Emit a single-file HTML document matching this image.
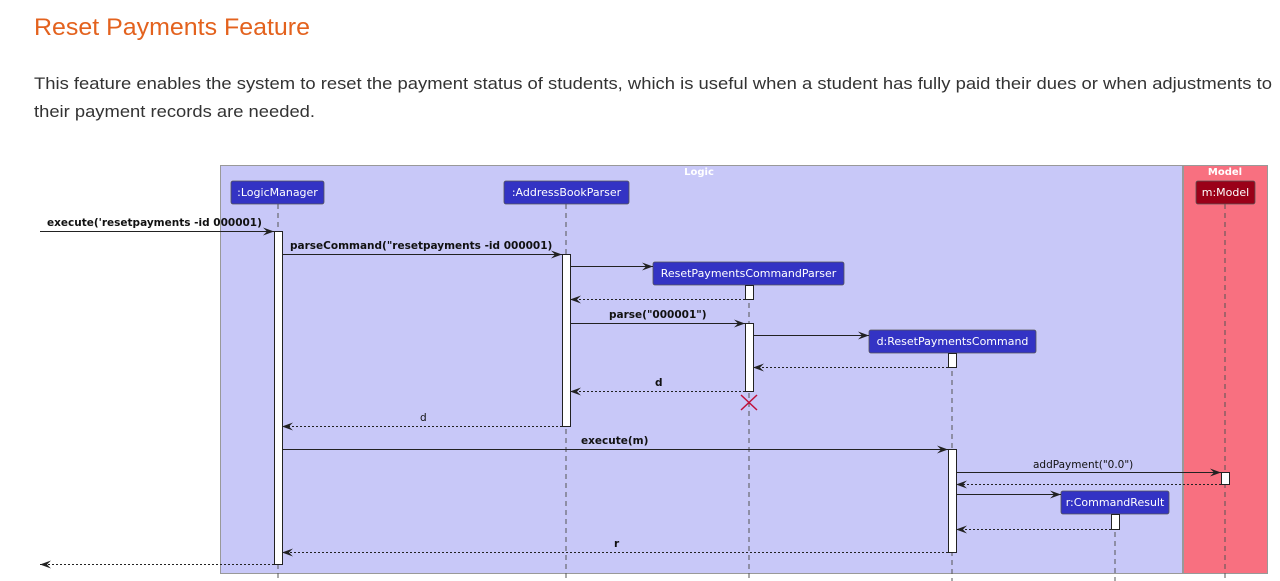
<!DOCTYPE html>
<html><head><meta charset="utf-8"><style>
html,body{margin:0;padding:0;background:#fff;width:1280px;height:581px;overflow:hidden}
svg{display:block}
.n{font-family:"DejaVu Sans","Liberation Sans",sans-serif;font-size:11px;fill:#fff}
.m{font-family:"DejaVu Sans","Liberation Sans",sans-serif;font-size:10.5px;font-weight:bold;fill:#111}
</style></head><body>
<svg width="1280" height="581" viewBox="0 0 1280 581" xmlns="http://www.w3.org/2000/svg">
<defs>
<marker id="a" markerWidth="12" markerHeight="10" refX="11" refY="5" orient="auto" markerUnits="userSpaceOnUse"><path d="M0,1 L11,5 L0,9 L4,5 Z" fill="#222"/></marker>
</defs>
<text x="34" y="35" font-family="Liberation Sans,sans-serif" font-size="24" fill="#E3621E" textLength="276" lengthAdjust="spacingAndGlyphs">Reset Payments Feature</text>
<text x="34" y="89" font-family="Liberation Sans,sans-serif" font-size="17" fill="#333" textLength="1238" lengthAdjust="spacingAndGlyphs">This feature enables the system to reset the payment status of students, which is useful when a student has fully paid their dues or when adjustments to</text>
<text x="34" y="117" font-family="Liberation Sans,sans-serif" font-size="17" fill="#333" textLength="281" lengthAdjust="spacingAndGlyphs">their payment records are needed.</text>

<rect x="220.5" y="165.5" width="962" height="408" fill="#C8C8F8" stroke="#999"/>
<rect x="1183.5" y="165.5" width="84" height="408" fill="#F87080" stroke="#999"/>
<text x="699" y="175" text-anchor="middle" font-family="DejaVu Sans,sans-serif" font-size="10" font-weight="bold" fill="#fff">Logic</text>
<text x="1225" y="175" text-anchor="middle" font-family="DejaVu Sans,sans-serif" font-size="10" font-weight="bold" fill="#fff">Model</text>

<g stroke="#555" stroke-dasharray="5,4" stroke-width="1">
<line x1="278" y1="204" x2="278" y2="581"/>
<line x1="566" y1="204" x2="566" y2="581"/>
<line x1="749" y1="285" x2="749" y2="581"/>
<line x1="952" y1="353" x2="952" y2="581"/>
<line x1="1115" y1="514" x2="1115" y2="581"/>
<line x1="1225" y1="204" x2="1225" y2="581"/>
</g>

<g stroke="#555" stroke-width="0.8">
<rect x="231" y="181" width="93" height="23" rx="2" fill="#3333C4"/>
<rect x="504" y="181" width="125" height="23" rx="2" fill="#3333C4"/>
<rect x="653" y="262" width="191" height="23" rx="2" fill="#3333C4"/>
<rect x="869" y="330" width="167" height="23" rx="2" fill="#3333C4"/>
<rect x="1061" y="491" width="108" height="23" rx="2" fill="#3333C4"/>
<rect x="1196" y="181" width="59" height="23" rx="2" fill="#9A0018"/>
</g>
<text class="n" x="277.5" y="196" text-anchor="middle">:LogicManager</text>
<text class="n" x="566.5" y="196" text-anchor="middle">:AddressBookParser</text>
<text class="n" x="748.5" y="277" text-anchor="middle">ResetPaymentsCommandParser</text>
<text class="n" x="952.5" y="345" text-anchor="middle">d:ResetPaymentsCommand</text>
<text class="n" x="1115" y="506" text-anchor="middle">r:CommandResult</text>
<text class="n" x="1225.5" y="196" text-anchor="middle">m:Model</text>

<g fill="#fff" stroke="#222" stroke-width="1">
<rect x="274.5" y="231.5" width="8" height="333"/>
<rect x="562.5" y="254.5" width="8" height="172"/>
<rect x="745.5" y="285.5" width="8" height="14"/>
<rect x="745.5" y="323.5" width="8" height="68"/>
<rect x="948.5" y="353.5" width="8" height="14"/>
<rect x="948.5" y="449.5" width="8" height="103"/>
<rect x="1221.5" y="472.5" width="8" height="12"/>
<rect x="1111.5" y="514.5" width="8" height="15"/>
</g>

<g stroke="#222" stroke-width="1" fill="none" marker-end="url(#a)">
<line x1="40" y1="231.5" x2="274" y2="231.5"/>
<line x1="282" y1="254.5" x2="562" y2="254.5"/>
<line x1="570" y1="266.5" x2="653" y2="266.5"/>
<line x1="570" y1="323.5" x2="745" y2="323.5"/>
<line x1="753" y1="335.5" x2="869" y2="335.5"/>
<line x1="282" y1="449.5" x2="948" y2="449.5"/>
<line x1="956" y1="472.5" x2="1221" y2="472.5"/>
<line x1="956" y1="494.5" x2="1061" y2="494.5"/>
</g>
<g stroke="#222" stroke-width="1" fill="none" stroke-dasharray="2,2" marker-end="url(#a)">
<line x1="745" y1="299.5" x2="570" y2="299.5"/>
<line x1="948" y1="367.5" x2="753" y2="367.5"/>
<line x1="745" y1="391.5" x2="570" y2="391.5"/>
<line x1="562" y1="426.5" x2="282" y2="426.5"/>
<line x1="1221" y1="484.5" x2="956" y2="484.5"/>
<line x1="1111" y1="529.5" x2="956" y2="529.5"/>
<line x1="948" y1="552.5" x2="282" y2="552.5"/>
<line x1="274" y1="564.5" x2="40" y2="564.5"/>
</g>
<g stroke="#C0103A" stroke-width="1.5"><line x1="741" y1="395" x2="757" y2="410"/><line x1="757" y1="395" x2="741" y2="410"/></g>

<text class="m" x="47" y="226">execute('resetpayments -id 000001)</text>
<text class="m" x="290" y="249">parseCommand("resetpayments -id 000001)</text>
<text class="m" x="609" y="318">parse("000001")</text>
<text class="m" x="655" y="386">d</text>
<text class="m" x="420" y="421" style="font-weight:normal">d</text>
<text class="m" x="581" y="444">execute(m)</text>
<text class="m" x="1033" y="468" style="font-weight:normal">addPayment("0.0")</text>
<text class="m" x="614" y="547">r</text>
</svg>
</body></html>
